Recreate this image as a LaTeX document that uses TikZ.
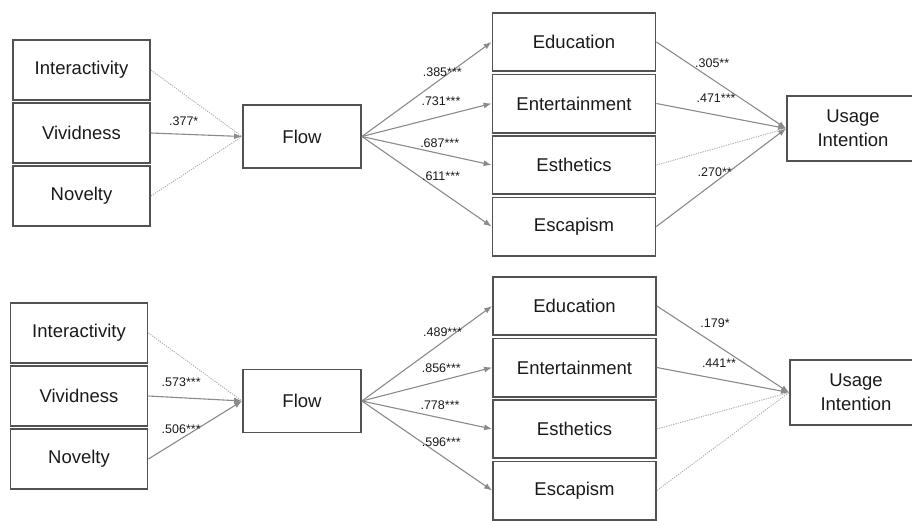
\documentclass[tikz,border=0pt]{standalone}
\usepackage{fontspec}
\setmainfont{Liberation Sans}
\usetikzlibrary{positioning,arrows.meta}
\definecolor{boxline}{HTML}{525252}
\definecolor{pathcol}{HTML}{8A8A8A}
\definecolor{nscol}{HTML}{ABABAB}
\definecolor{txt}{HTML}{1A1A1A}

\begin{document}
\begin{tikzpicture}[x=1pt,y=-1pt,
	box/.style={draw=boxline, line width=1.8pt, inner sep=0pt, text=txt, align=center,
		font=\fontsize{18.5}{24}\selectfont},
	lbox/.style={box, minimum width=137pt, minimum height=59.6pt},
	mbox/.style={box, minimum width=163pt, minimum height=58.2pt},
	fbox/.style={box, minimum width=118pt, minimum height=63pt},
	ubox/.style={box, minimum width=132pt, minimum height=65pt},
	lbl/.style={text=txt, inner sep=1pt, font=\fontsize{12.5}{14}\selectfont},
	sig/.style={draw=pathcol, line width=1.1pt, -{Latex[length=8pt,width=6pt]}},
	nsig/.style={draw=nscol, line width=0.9pt, dash pattern=on 1.2pt off 1.2pt}]
	\useasboundingbox (0,0) rectangle (912,520);
	
	% first model
	\node[lbox] (int1) at (81.5,70) {Interactivity};
	\node[lbox, below=1.6pt of int1] (viv1) {Vividness};
	\node[lbox, below=1.6pt of viv1] (nov1) {Novelty};
	
	\node[fbox] (flow1) at (302,136.5) {Flow};
	
	\node[mbox] (edu1) at (574,42) {Education};
	\node[mbox, below=1.5pt of edu1] (ent1) {Entertainment};
	\node[mbox, below=1.5pt of ent1] (est1) {Esthetics};
	\node[mbox, below=1.5pt of est1] (esc1) {Escapism};
	
	\node[ubox] (use1) at (853,128.5) {Usage\\Intention};
	
	\draw[nsig] (int1.east) -- (flow1.west);
	\draw[sig] (viv1.east) -- node[lbl, pos=.36, above=7.5pt] {.377*} (flow1.west);
	\draw[nsig] (nov1.east) -- (flow1.west);
	
	\draw[sig] (flow1.east) -- node[lbl, pos=.62, above=0pt] {.385***} (edu1.west);
	\draw[sig] (flow1.east) -- node[lbl, pos=.61, above=9.5pt] {.731***} (ent1.west);
	\draw[sig] (flow1.east) -- node[lbl, pos=.60, above=4pt] {.687***} (est1.west);
	\draw[sig] (flow1.east) -- node[lbl, pos=.61, above=9pt] {.611***} (esc1.west);
	
	\draw[sig] (edu1.east) -- node[lbl, pos=.43, above=10.5pt] {.305**} (use1.west);
	\draw[sig] (ent1.east) -- node[lbl, pos=.46, above=10.5pt] {.471***} (use1.west);
	\draw[nsig] (est1.east) -- (use1.west);
	\draw[sig] (esc1.east) -- node[lbl, pos=.45, above=4pt] {.270**} (use1.west);
	
	% second model
	\node[lbox] (int2) at (79,333) {Interactivity};
	\node[lbox, below=1.6pt of int2] (viv2) {Vividness};
	\node[lbox, below=1.6pt of viv2] (nov2) {Novelty};
	
	\node[fbox] (flow2) at (302,401) {Flow};
	
	\node[mbox] (edu2) at (574.5,306) {Education};
	\node[mbox, below=1.5pt of edu2] (ent2) {Entertainment};
	\node[mbox, below=1.5pt of ent2] (est2) {Esthetics};
	\node[mbox, below=1.5pt of est2] (esc2) {Escapism};
	
	\node[ubox] (use2) at (856,392.5) {Usage\\Intention};
	
	\draw[nsig] (int2.east) -- (flow2.west);
	\draw[sig] (viv2.east) -- node[lbl, pos=.35, above=9.5pt] {.573***} (flow2.west);
	\draw[sig] (nov2.east) -- node[lbl, pos=.35, above=4pt] {.506***} (flow2.west);
	
	\draw[sig] (flow2.east) -- node[lbl, pos=.62, above=3.5pt] {.489***} (edu2.west);
	\draw[sig] (flow2.east) -- node[lbl, pos=.61, above=6pt] {.856***} (ent2.west);
	\draw[sig] (flow2.east) -- node[lbl, pos=.60, above=6.5pt] {.778***} (est2.west);
	\draw[sig] (flow2.east) -- node[lbl, pos=.61, above=7pt] {.596***} (esc2.west);
	
	\draw[sig] (edu2.east) -- node[lbl, pos=.44, above=14.5pt] {.179*} (use2.west);
	\draw[sig] (ent2.east) -- node[lbl, pos=.47, above=10.5pt] {.441**} (use2.west);
	\draw[nsig] (est2.east) -- (use2.west);
	\draw[nsig] (esc2.east) -- (use2.west);
\end{tikzpicture}
\end{document}
